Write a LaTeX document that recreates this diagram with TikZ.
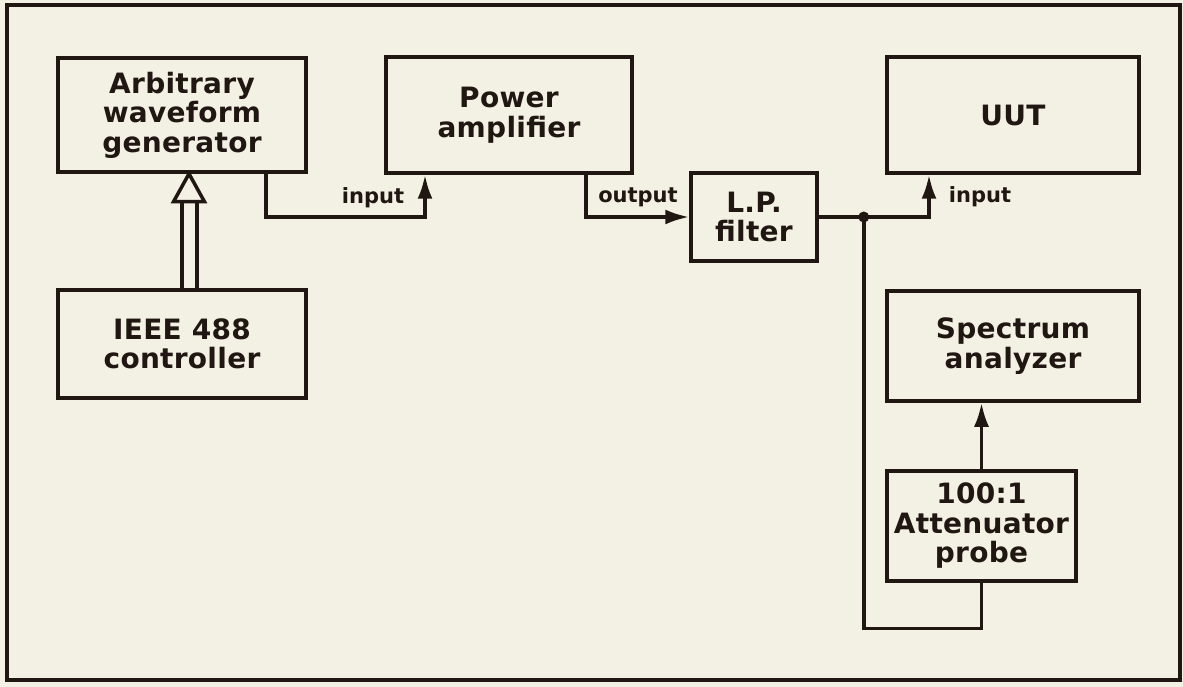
\documentclass[tikz,border=0pt]{standalone}
\usepackage{fontspec}
\setmainfont{DejaVu Sans}
\newfontfamily\boxfont{DejaVu Sans}[LetterSpace=1]
\newfontfamily\lblfont{DejaVu Sans}
\usetikzlibrary{arrows.meta}
\definecolor{bg}{RGB}{243,240,228}
\definecolor{ink}{RGB}{32,22,18}
\begin{document}
\begin{tikzpicture}[x=1pt,y=-1pt,
  box/.style={draw=ink, line width=3.5pt, align=center, inner sep=0pt, text=ink,
    font=\boxfont\bfseries\fontsize{28}{29.5}\selectfont},
  lbl/.style={font=\lblfont\bfseries\fontsize{21}{24}\selectfont, text=ink, inner sep=0pt},
  wire/.style={draw=ink, line width=3.5pt},
  arr/.style={wire, -{Latex[length=24pt,width=15pt]}}]
\fill[bg] (0,0) rectangle (1183,687);
\useasboundingbox (0,0) rectangle (1183,687);
\draw[ink, line width=3.5pt] (7,5) rectangle (1180,680);

\node[box, minimum width=248pt, minimum height=114pt] (awg) at (182,115) {Arbitrary\\waveform\\generator};
\node[box, minimum width=248pt, minimum height=108pt] (ieee) at (182,344) {IEEE 488\\controller};
\node[box, minimum width=246pt, minimum height=116pt] (pa) at (509,115) {Power\\amplifier};
\node[box, minimum width=126pt, minimum height=88pt] (lpf) at (754,217) {L.P.\\filter};
\node[box, minimum width=252pt, minimum height=116pt] (uut) at (1013,115) {UUT};
\node[box, minimum width=252pt, minimum height=110pt] (sa) at (1013,346) {Spectrum\\analyzer};
\node[box, minimum width=189pt, minimum height=110pt] (probe) at (981.5,526) {100:1\\Attenuator\\probe};

% IEEE bus to generator (double line, open arrow)
\coordinate (tip) at ([xshift=7pt]awg.south);
\coordinate (tb) at ([yshift=-28pt]tip);
\draw[wire] (ieee.north) -- (ieee.north |- tb);
\draw[wire] ([xshift=15pt]ieee.north) -- ([xshift=15pt]ieee.north |- tb);
\draw[wire, fill=bg, line join=miter] (tip) -- ++(-15.5,28) -- ++(31,0) -- cycle;

% generator -> power amplifier
\draw[arr] ([xshift=84pt]awg.south) -- ++(0,43.5) -| ([xshift=-84pt]pa.south);
\node[lbl] (in1) at (373,198) {input};

% power amplifier -> filter
\draw[arr] ([xshift=77pt]pa.south) |- (lpf.west);
\node[lbl] (out) at (638,197) {output};

% filter -> UUT
\coordinate (j) at ([xshift=45pt]lpf.east);
\draw[arr] (lpf.east) -| ([xshift=-84pt]uut.south);
\fill[ink] (j) circle (5.5pt);
\node[lbl] (in2) at (980,197) {input};

% probe -> spectrum analyzer
\draw[arr] (probe.north) -- (probe.north |- sa.south);
\draw[wire] (probe.south) -- ++(0,45.5) -| (j);
\end{tikzpicture}
\end{document}
